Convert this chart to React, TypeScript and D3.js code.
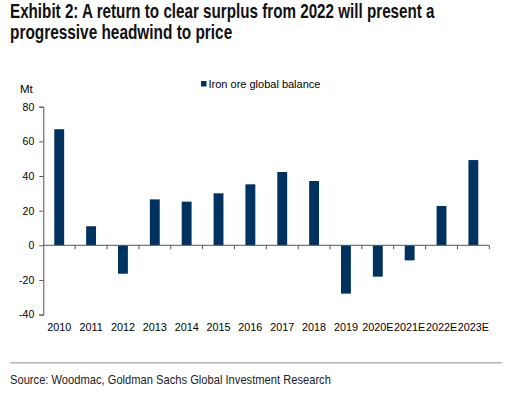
import React, { useEffect, useRef } from 'react';
import * as d3 from 'd3';

const years = ['2010', '2011', '2012', '2013', '2014', '2015', '2016', '2017', '2018', '2019', '2020E', '2021E', '2022E', '2023E'];
const balance = [67, 11, -16.4, 26.5, 25.2, 30, 35.2, 42.3, 37.1, -27.9, -18.1, -8.7, 22.7, 49.2];
const yTicks = [-40, -20, 0, 20, 40, 60, 80];

const BAR = '#00325f';
const NARROW = '"Liberation Sans Narrow", "Liberation Sans", Arial, sans-serif';
const SANS = '"Liberation Sans", Arial, sans-serif';

// draw text squeezed horizontally to a given width (the original uses a condensed face)
function squeezed(
  svg: d3.Selection<SVGSVGElement, unknown, null, undefined>,
  str: string, x: number, y: number, width: number,
  size: number, weight: string, fill: string,
) {
  const t = svg.append('text')
    .attr('font-family', NARROW)
    .attr('font-weight', weight)
    .attr('font-size', size)
    .attr('fill', fill)
    .text(str);
  const len = (t.node() as SVGTextElement).getComputedTextLength() || width;
  t.attr('transform', `translate(${x},${y}) scale(${width / len},1)`);
  return t;
}

const App: React.FC = () => {
  const svgRef = useRef<SVGSVGElement>(null);

  useEffect(() => {
    if (!svgRef.current) return;
    const svg = d3.select(svgRef.current);
    svg.selectAll('*').remove();

    const left = 43.3, right = 489.3;
    const x = d3.scaleBand<string>().domain(years).range([left, right]).paddingInner(0.69).paddingOuter(0.345);
    const band = (right - left) / years.length;
    const y = d3.scaleLinear().domain([-40, 80]).range([314.6, 106.7]);

    // title
    squeezed(svg, 'Exhibit 2: A return to clear surplus from 2022 will present a', 10, 18.3, 425, 19.5, 'bold', '#111');
    squeezed(svg, 'progressive headwind to price', 10, 39.3, 222.5, 19.5, 'bold', '#111');

    // legend
    svg.append('rect').attr('x', 201).attr('y', 81).attr('width', 5.5).attr('height', 5.5).attr('fill', BAR);
    svg.append('text')
      .attr('x', 208.5).attr('y', 88)
      .attr('font-family', SANS).attr('font-size', 11).attr('fill', '#000')
      .text('Iron ore global balance');

    // unit label
    svg.append('text')
      .attr('x', 20).attr('y', 93)
      .attr('font-family', SANS).attr('font-size', 11.5).attr('fill', '#000')
      .text('Mt');

    // bars
    svg.append('g')
      .selectAll('rect')
      .data(balance)
      .join('rect')
      .attr('x', (_, i) => x(years[i])!)
      .attr('width', x.bandwidth())
      .attr('y', d => y(Math.max(0, d)))
      .attr('height', d => Math.abs(y(d) - y(0)))
      .attr('fill', BAR);

    // y axis
    const yAxis = svg.append('g')
      .attr('transform', `translate(${left},0)`)
      .call(d3.axisLeft(y).tickValues(yTicks).tickSize(4).tickPadding(5).tickFormat(d => String(d)));
    yAxis.select('.domain').attr('stroke', '#555');
    yAxis.selectAll('.tick line').attr('stroke', '#555');
    yAxis.selectAll('.tick text').attr('font-family', SANS).attr('font-size', 10.5).attr('fill', '#000');

    // x axis at zero
    const xAxis = svg.append('g').attr('transform', `translate(0,${y(0)})`);
    xAxis.append('line').attr('x1', left).attr('x2', right).attr('stroke', '#555');
    xAxis.selectAll('line.tk')
      .data(d3.range(1, years.length + 1))
      .join('line')
      .attr('class', 'tk')
      .attr('x1', i => left + i * band).attr('x2', i => left + i * band)
      .attr('y1', 0).attr('y2', 4)
      .attr('stroke', '#555');

    svg.append('g')
      .selectAll('text')
      .data(years)
      .join('text')
      .attr('x', d => x(d)! + x.bandwidth() / 2)
      .attr('y', 331)
      .attr('text-anchor', 'middle')
      .attr('font-family', SANS).attr('font-size', 10.8).attr('fill', '#000')
      .text(d => d);

    // footer
    svg.append('line')
      .attr('x1', 10).attr('x2', 502).attr('y1', 362.7).attr('y2', 362.7)
      .attr('stroke', '#b5b5b5').attr('stroke-width', 1.5);
    squeezed(svg, 'Source: Woodmac, Goldman Sachs Global Investment Research', 10, 384, 321, 13, 'normal', '#222');
  }, []);

  return (
    <svg ref={svgRef} width={523} height={396}
      style={{ position: 'absolute', left: 0, top: 0, background: '#fff' }} />
  );
};

export default App;
